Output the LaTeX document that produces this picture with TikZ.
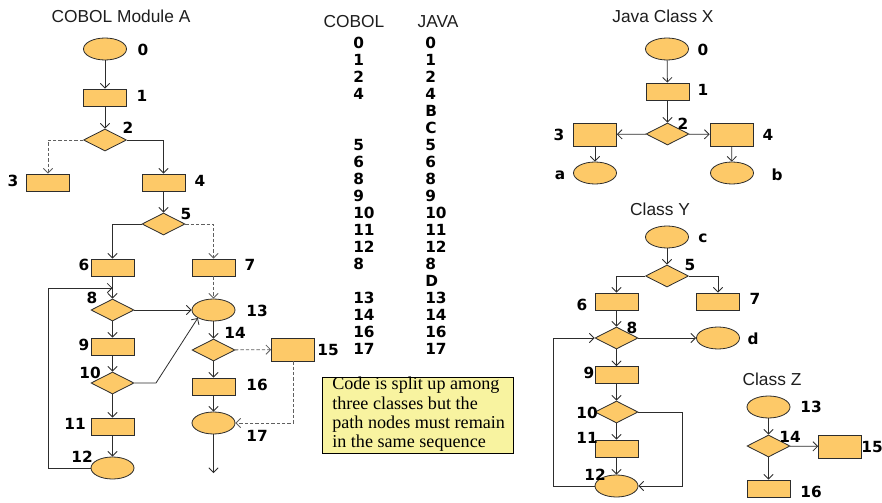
\documentclass[tikz,border=0pt]{standalone}
\usepackage{fontspec}
\setmainfont{Liberation Sans}
\newfontfamily\notefont{Liberation Serif}
\newfontfamily\lblfont{DejaVu Sans}
\usetikzlibrary{shapes.geometric,arrows.meta}

\definecolor{nodefill}{RGB}{253,201,104}
\definecolor{notefill}{RGB}{248,243,160}
\definecolor{edgecol}{RGB}{45,45,45}
\definecolor{titlecol}{RGB}{30,30,30}

\tikzset{
  base/.style={draw=edgecol, line width=0.6pt, fill=nodefill, inner sep=0pt},
  box/.style={base, rectangle, minimum width=32.25pt, minimum height=12.75pt},
  bigbox/.style={base, rectangle, minimum width=32.25pt, minimum height=17.25pt},
  oval/.style={base, ellipse, minimum width=32.25pt, minimum height=16.5pt},
  dia/.style={base, diamond, minimum width=32.25pt, minimum height=16.5pt},
  lbl/.style={inner sep=0pt, font=\lblfont\bfseries\fontsize{11.5}{11.5}\selectfont, text=black},
  title/.style={inner sep=0pt, font=\fontsize{13}{13}\selectfont, text=titlecol},
  tnum/.style={inner sep=0pt, anchor=west, font=\lblfont\bfseries\fontsize{11.5}{11.5}\selectfont},
  arr/.style={draw=edgecol, line width=0.6pt, -{Straight Barb[length=3.5pt,width=7pt]}},
  darr/.style={arr, draw=gray!75!black, dash pattern=on 2.5pt off 1.5pt},
  notebox/.style={draw=black, line width=0.6pt, fill=notefill, rectangle,
    minimum width=143.25pt, minimum height=57pt},
  notetext/.style={inner sep=0pt, anchor=west, align=left,
    font=\notefont\fontsize{13.6}{14.5}\selectfont}
}

\begin{document}
\begin{tikzpicture}[x=0.75pt, y=-0.75pt]
\useasboundingbox (0,0) rectangle (882,503);
\fill[white] (0,0) rectangle (882,503);

% ---------------- COBOL Module A ----------------
\node[title] (tA) at (121,16) {COBOL Module A};
\node[oval] (A0) at (105,49) {};
\node[box]  (A1) at (105,97.5) {};
\node[dia]  (A2) at (105,140) {};
\node[box]  (A3) at (48,182.5) {};
\node[box]  (A4) at (163.5,182.5) {};
\node[dia]  (A5) at (163.5,224) {};
\node[box]  (A6) at (112.5,267.5) {};
\node[box]  (A7) at (213.5,267.5) {};
\node[dia]  (A8) at (112.5,310) {};
\node[oval] (A13) at (213.5,310) {};
\node[box]  (A9) at (112.5,346.5) {};
\node[dia]  (A10) at (112.5,383) {};
\node[box]  (A11) at (112.5,426.5) {};
\node[oval] (A12) at (112.5,468) {};
\node[dia]  (A14) at (213.5,350) {};
\node[bigbox] (A15) at (293,349.5) {};
\node[box]  (A16) at (213.5,386.5) {};
\node[oval] (A17) at (213.5,423) {};

\node[lbl] (lA0) at (143,50) {0};
\node[lbl] (lA1) at (142,96) {1};
\node[lbl] (lA2) at (128,128) {2};
\node[lbl] (lA3) at (13,181) {3};
\node[lbl] (lA4) at (200,181) {4};
\node[lbl] (lA5) at (186,214) {5};
\node[lbl] (lA6) at (84,265) {6};
\node[lbl] (lA7) at (250,265) {7};
\node[lbl] (lA8) at (92,298) {8};
\node[lbl] (lA13) at (257,311) {13};
\node[lbl] (lA9) at (84,345) {9};
\node[lbl] (lA10) at (90,373) {10};
\node[lbl] (lA11) at (75,424) {11};
\node[lbl] (lA12) at (82,457) {12};
\node[lbl] (lA14) at (235,333) {14};
\node[lbl] (lA15) at (328,350) {15};
\node[lbl] (lA16) at (257,385) {16};
\node[lbl] (lA17) at (257,436) {17};

\coordinate (loopAL) at (48,288);
\coordinate (loopAJ) at (112.5,288);
\coordinate (bendA) at (156,383);
\coordinate (endA) at (213.5,473);

\draw[arr] (A0) -- (A1);
\draw[arr] (A1) -- (A2);
\draw[darr] (A2.west) -| (A3.north);
\draw[arr] (A2.east) -| (A4.north);
\draw[arr] (A4) -- (A5);
\draw[arr] (A5.west) -| (A6.north);
\draw[darr] (A5.east) -| (A7.north);
\draw[arr] (A6) -- (A8);
\draw[darr] (A7) -- (A13);
\draw[arr] (A8) -- (A13);
\draw[arr] (A8) -- (A9);
\draw[arr] (A9) -- (A10);
\draw[arr] (A10.east) -- (bendA) -- (A13.207);
\draw[arr] (A10) -- (A11);
\draw[arr] (A11) -- (A12);
\draw[arr] (A12.west) -| (loopAL) -- (loopAJ);
\draw[arr] (A13) -- (A14);
\draw[darr] (A14) -- (A15);
\draw[arr] (A14) -- (A16);
\draw[arr] (A16) -- (A17);
\draw[darr] (A15.south) |- (A17.east);
\draw[arr] (A17) -- (endA);

% ---------------- path sequence table ----------------
\node[title] (hC) at (354,22) {COBOL};
\node[title] (hJ) at (438,22) {JAVA};
\foreach \c/\j/\r in {0/0/0, 1/1/1, 2/2/2, 4/4/3, /B/4, /C/5, 5/5/6, 6/6/7,
    8/8/8, 9/9/9, 10/10/10, 11/11/11, 12/12/12, 8/8/13, /D/14, 13/13/15,
    14/14/16, 16/16/17, 17/17/18} {
  \node[tnum] (tc\r) at (353,{43+17*\r}) {\c};
  \node[tnum] (tj\r) at (425,{43+17*\r}) {\j};
}

% ---------------- note ----------------
\node[notebox] (note) at (417.5,415) {};
\node[notetext] (notetxt) at (332,414.5) {Code is split up among\\ three classes but the\\ path nodes must remain\\ in the same sequence};

% ---------------- Java Class X ----------------
\node[title] (tX) at (663,16) {Java Class X};
\node[oval] (X0) at (667,49) {};
\node[box]  (X1) at (667.5,91.5) {};
\node[dia]  (X2) at (667.5,134) {};
\node[bigbox] (X3) at (595,134.5) {};
\node[bigbox] (X4) at (731.5,134.5) {};
\node[oval] (Xa) at (595,173) {};
\node[oval] (Xb) at (732,173) {};

\node[lbl] (lX0) at (703,50) {0};
\node[lbl] (lX1) at (703,90) {1};
\node[lbl] (lX2) at (683,124) {2};
\node[lbl] (lX3) at (559,135) {3};
\node[lbl] (lX4) at (768,135) {4};
\node[lbl] (lXa) at (560,175) {a};
\node[lbl] (lXb) at (777,175) {b};

\draw[arr] (X0) -- (X1);
\draw[arr] (X1) -- (X2);
\draw[arr] (X2) -- (X3);
\draw[arr] (X2) -- (X4);
\draw[arr] (X3) -- (Xa);
\draw[arr] (X4) -- (Xb);

% ---------------- Class Y ----------------
\node[title] (tY) at (660,209) {Class Y};
\node[oval] (Yc) at (667,237) {};
\node[dia]  (Y5) at (667,276) {};
\node[box]  (Y6) at (616.5,301.5) {};
\node[box]  (Y7) at (718,301.5) {};
\node[dia]  (Y8) at (616.5,338) {};
\node[oval] (Yd) at (718,338) {};
\node[box]  (Y9) at (616.5,375) {};
\node[dia]  (Y10) at (616.5,412) {};
\node[box]  (Y11) at (616.5,448.5) {};
\node[oval] (Y12) at (616.5,486) {};

\node[lbl] (lYc) at (703,238) {c};
\node[lbl] (lY5) at (690,265) {5};
\node[lbl] (lY6) at (582,305) {6};
\node[lbl] (lY7) at (755,299) {7};
\node[lbl] (lY8) at (632,328) {8};
\node[lbl] (lYd) at (753,339) {d};
\node[lbl] (lY9) at (589,373) {9};
\node[lbl] (lY10) at (587,413) {10};
\node[lbl] (lY11) at (587,438) {11};
\node[lbl] (lY12) at (595,475) {12};

\coordinate (loopYL) at (553,338);
\coordinate (loopYR) at (682,486);

\draw[arr] (Yc) -- (Y5);
\draw[arr] (Y5.west) -| (Y6.north);
\draw[arr] (Y5.east) -| (Y7.north);
\draw[arr] (Y6) -- (Y8);
\draw[arr] (Y8) -- (Yd);
\draw[arr] (Y8) -- (Y9);
\draw[arr] (Y9) -- (Y10);
\draw[arr] (Y10) -- (Y11);
\draw[arr] (Y11) -- (Y12);
\draw[arr] (Y12.west) -| (loopYL) -- (Y8.west);
\draw[arr] (Y10.east) -| (loopYR) -- (Y12.east);

% ---------------- Class Z ----------------
\node[title] (tZ) at (772,379) {Class Z};
\node[oval] (Z13) at (768.5,407) {};
\node[dia]  (Z14) at (768.5,446) {};
\node[bigbox] (Z15) at (840,446.5) {};
\node[box]  (Z16) at (768.5,488.5) {};

\node[lbl] (lZ13) at (811,407) {13};
\node[lbl] (lZ14) at (790,437) {14};
\node[lbl] (lZ15) at (872,447) {15};
\node[lbl] (lZ16) at (811,492) {16};

\draw[arr] (Z13) -- (Z14);
\draw[arr] (Z14) -- (Z15);
\draw[arr] (Z14) -- (Z16);
\end{tikzpicture}
\end{document}
